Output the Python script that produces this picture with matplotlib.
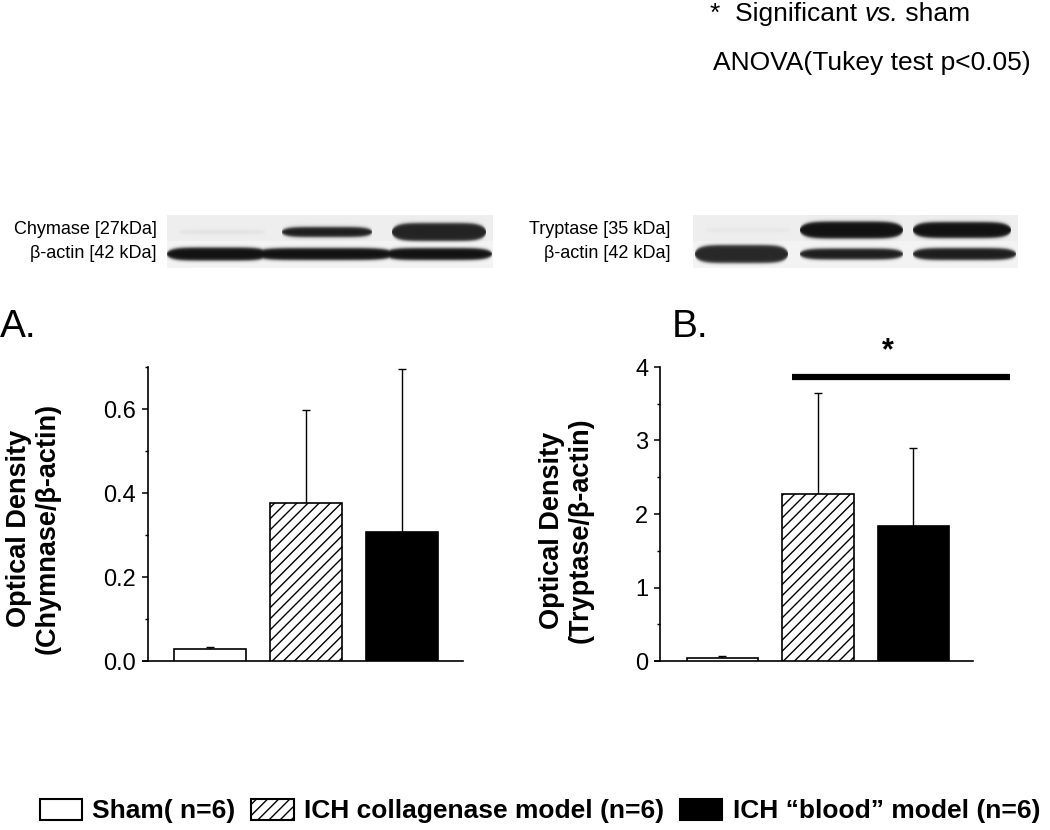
import matplotlib
matplotlib.use('Agg')
import numpy as np
import matplotlib.pyplot as plt
from matplotlib.patches import Patch
from matplotlib.ticker import MultipleLocator, FormatStrFormatter

plt.rcParams['font.family'] = ['Liberation Sans', 'DejaVu Sans']
plt.rcParams['hatch.linewidth'] = 1.0

# group data
groups = ['Sham( n=6)', 'ICH collagenase model (n=6)', 'ICH \u201cblood\u201d model (n=6)']
chymase_mean = [0.029, 0.376, 0.307]
chymase_err = [0.005, 0.221, 0.388]
tryptase_mean = [0.04, 2.27, 1.84]
tryptase_err = [0.03, 1.38, 1.06]

# blot band intensities (0 = no band, 1 = black), one per lane
chymase_band = [0.05, 0.95, 0.92]
actin_band_a = [1.0, 1.0, 1.0]
tryptase_band = [0.03, 1.0, 1.0]
actin_band_b = [0.9, 0.95, 0.95]

fills = ['white', 'white', 'black']
hatches = [None, '///', None]

W, H = 1050, 830
fig = plt.figure(figsize=(10.5, 8.3), dpi=100)


def px_axes(x0, y0, x1, y1):
    # pixel box (top-left origin) -> figure axes
    return fig.add_axes([x0 / W, 1 - y1 / H, (x1 - x0) / W, (y1 - y0) / H])


def draw_bars(ax, means, errs, width):
    x = range(len(means))
    bars = ax.bar(x, means, width=width, color=fills, edgecolor='black',
                  linewidth=1.2, zorder=3)
    for b, h in zip(bars, hatches):
        if h:
            b.set_hatch(h)
    ax.errorbar(x, means, yerr=[[0] * len(errs), errs], fmt='none',
                ecolor='black', elinewidth=1.0, capsize=3.0, capthick=1.0,
                zorder=2)
    for s in ['top', 'right']:
        ax.spines[s].set_visible(False)
    for s in ['left', 'bottom']:
        ax.spines[s].set_linewidth(1.2)
    ax.set_xticks([])
    ax.tick_params(axis='y', which='major', length=4.5, width=1.1,
                   labelsize=17, pad=4)
    ax.tick_params(axis='y', which='minor', length=2.5, width=1.0)


# panel A
axA = px_axes(148, 367, 463, 661)
draw_bars(axA, chymase_mean, chymase_err, 0.75)
axA.set_xlim(-0.646, 2.635)
axA.spines['bottom'].set_bounds(-0.70, 2.635)
axA.set_ylim(0, 0.7)
axA.yaxis.set_major_locator(MultipleLocator(0.2))
axA.yaxis.set_minor_locator(MultipleLocator(0.1))
axA.yaxis.set_major_formatter(FormatStrFormatter('%.1f'))
axA.set_ylabel('Optical Density\n(Chymnase/\u03b2-actin)', fontsize=19.5,
               fontweight='bold', linespacing=1.15)
axA.yaxis.set_label_coords(-0.276, 0.45)

# panel B
axB = px_axes(660, 367, 973, 661)
draw_bars(axB, tryptase_mean, tryptase_err, 0.745)
axB.set_xlim(-0.654, 2.623)
axB.spines['bottom'].set_bounds(-0.71, 2.623)
axB.set_ylim(0, 4)
axB.yaxis.set_major_locator(MultipleLocator(1))
axB.yaxis.set_minor_locator(MultipleLocator(0.5))
axB.set_ylabel('Optical Density\n(Tryptase/\u03b2-actin)', fontsize=19.5,
               fontweight='bold', linespacing=1.15)
axB.yaxis.set_label_coords(-0.211, 0.446)
axB.plot([0.728, 3.01], [3.86, 3.86], color='black', lw=4.5,
         solid_capstyle='butt', clip_on=False)
axB.text(1.733, 4.22, '*', ha='center', va='center', fontsize=22,
         fontweight='bold', clip_on=False)

fig.text(0 / W, 1 - 337 / H, 'A.', fontsize=28, va='baseline', ha='left')
fig.text(672 / W, 1 - 337 / H, 'B.', fontsize=28, va='baseline', ha='left')


def draw_blot(box, rows, top_label, bottom_label, label_x):
    # rows: list of (intensities, lane spans in px, centre y in px, half thickness)
    x0, y0, x1, y1 = box
    ax = px_axes(*box)
    w, h = x1 - x0, y1 - y0
    X = np.arange(w) + 0.5
    Y = (np.arange(h) + 0.5)[:, None]
    img = np.where(Y < h * 0.49, 0.93, 0.955) * np.ones((h, w))
    dark = np.zeros((h, w))
    for vals, spans, yc, hh in rows:
        for v, (a, b), t in zip(vals, spans, hh):
            xc, hw = (a + b) / 2 - x0, (b - a) / 2
            taper = np.sqrt(np.clip(1 - np.abs((X - xc) / hw) ** 6, 0, 1))
            half = t * taper
            d = v / (1 + np.exp((np.abs(Y - (yc - y0)) - half) / 0.9))
            d = d * (taper > 0)
            dark = np.maximum(dark, d)
    img = img * (1 - dark) + 0.07 * dark
    ax.imshow(img, cmap='gray', vmin=0, vmax=1, aspect='auto',
              interpolation='bilinear', extent=(0, w, h, 0))
    ax.axis('off')
    fig.text(label_x / W, 1 - (y0 + h * 0.27) / H, top_label, ha='right',
             va='center', fontsize=13)
    fig.text(label_x / W, 1 - (y0 + h * 0.73) / H, bottom_label, ha='right',
             va='center', fontsize=13)


draw_blot((167, 215, 493, 268),
          [(chymase_band, [(180, 265), (282, 372), (392, 486)], 232, [2, 5, 9]),
           (actin_band_a, [(167, 268), (254, 395), (385, 492)], 254, [6.5, 6, 6])],
          'Chymase [27kDa]', '\u03b2-actin [42 kDa]', 157)
draw_blot((693, 215, 1018, 268),
          [(tryptase_band, [(705, 790), (800, 903), (913, 1011)], 230, [2, 8.5, 8]),
           (actin_band_b, [(695, 788), (800, 903), (913, 1016)], 254, [9, 5.5, 6])],
          'Tryptase [35 kDa]', '\u03b2-actin [42 kDa]', 670)

# significance note, "vs." in italics
t1 = fig.text(710 / W, 1 - 21 / H, '*  Significant ', fontsize=19,
              va='baseline', ha='left')
fig.canvas.draw()
r = fig.canvas.get_renderer()
x_px = t1.get_window_extent(r).x1
t2 = fig.text(x_px / W, 1 - 21 / H, 'vs.', fontsize=19, style='italic',
              va='baseline', ha='left')
x_px = t2.get_window_extent(r).x1
fig.text(x_px / W, 1 - 21 / H, ' sham', fontsize=19, va='baseline', ha='left')
fig.text(713 / W, 1 - 63 / H, 'ANOVA(Tukey test p<0.05)',
         fontsize=19, va='center', ha='left')

handles = [Patch(facecolor=f, edgecolor='black', hatch=h, linewidth=1.5)
           for f, h in zip(fills, hatches)]
fig.legend(handles, groups, ncol=3, loc='center',
           bbox_to_anchor=(540 / W, 1 - 811 / H), frameon=False,
           prop={'weight': 'bold', 'size': 19},
           handlelength=1.6, handleheight=0.85, handletextpad=0.4,
           columnspacing=0.6, borderpad=0, borderaxespad=0)

fig.savefig('out.png', dpi=100, facecolor='white')
